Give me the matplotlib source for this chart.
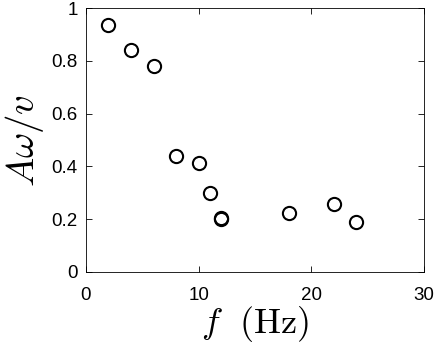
import numpy as np
import matplotlib
matplotlib.use('Agg')
import matplotlib.pyplot as plt

# frequency (Hz) and normalised amplitude
freq = [2, 4, 6, 8, 10, 11, 12, 12, 18, 22, 24]
amp = [0.935, 0.842, 0.78, 0.44, 0.414, 0.298, 0.204, 0.202, 0.225, 0.259, 0.188]

plt.rcParams['font.family'] = 'Liberation Sans'
plt.rcParams['mathtext.fontset'] = 'cm'

fig = plt.figure(figsize=(4.36, 3.53), dpi=100)
ax = fig.add_axes([0.197, 0.2295, 0.7755, 0.7475])

ax.plot(freq, amp, 'o', mfc='none', mec='k', ms=9.5, mew=1.5)

ax.set_xlim(0, 30)
ax.set_ylim(0, 1)
ax.set_xticks([0, 10, 20, 30])
ax.set_yticks([0, 0.2, 0.4, 0.6, 0.8, 1])
ax.set_yticklabels(['0', '0.2', '0.4', '0.6', '0.8', '1'])
ax.tick_params(direction='in', top=True, right=True, labelsize=13.5,
               length=4, width=0.6, colors='k', pad=6)
ax.tick_params(axis='x', pad=11)
for s in ax.spines.values():
    s.set_linewidth(0.6)

ax.set_xlabel(r'$f\ \ \mathrm{(Hz)}$', fontsize=26, labelpad=0)
ax.set_ylabel(r'$A\omega/v$', fontsize=28, labelpad=4)

fig.savefig('out.png', dpi=100)
